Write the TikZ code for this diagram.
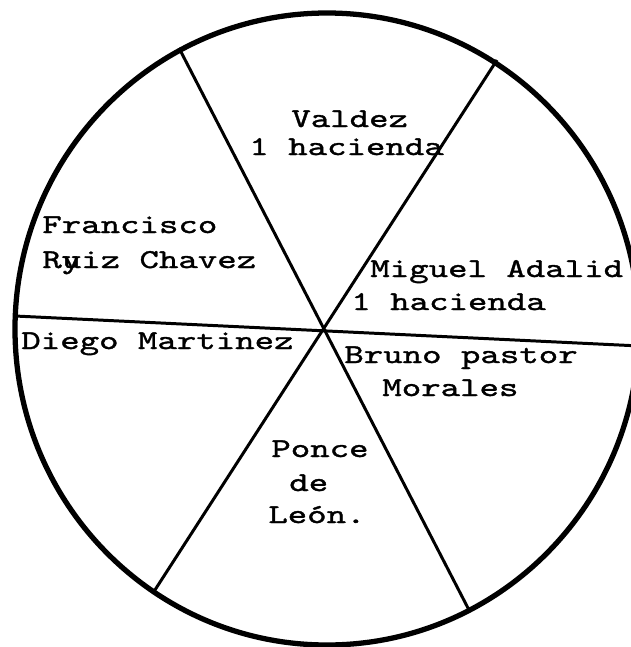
\documentclass[tikz,border=0pt]{standalone}
\usepackage{fontspec}
\newfontfamily\typer[FakeStretch=1.36,FakeBold=1.3]{lmmono10-regular.otf}
\tikzset{
  owner/.style={anchor=base west, inner sep=0pt, font={\typer\fontsize{15.5}{18}\selectfont}},
  rim/.style={line width=3pt},
  spoke/.style={line width=1.7pt}
}
\begin{document}
\begin{tikzpicture}[x=0.02cm, y=-0.02cm]
    \useasboundingbox (0,0) rectangle (631,647);
    \clip (0,0) rectangle (631,647);
    \fill[white] (0,0) rectangle (631,647);

    % Rim of the wheel
    \draw[rim] (327,329) ellipse (312 and 316);

    % Ends of the three spokes
    \coordinate (nw) at (179,48);  \coordinate (se) at (469,610);
    \coordinate (ne) at (497,60);  \coordinate (sw) at (153,593);
    \coordinate (w) at (15,316);   \coordinate (e) at (640,346);
    \draw[spoke] (nw) -- (se);
    \draw[spoke] (ne) -- (sw);
    \draw[spoke] (w) -- (e);

    % Top sector
    \node[owner] (valdez) at (291,127) {Valdez};
    \node[owner] (valdezh) at (249,155) {1 hacienda};
    % Upper left sector
    \node[owner] (ruiz) at (42,233) {Francisco};
    \node[owner] (ruizb) at (42,268) {R\rlap{y}uiz Chavez};
    % Upper right sector
    \node[owner] (adalid) at (370,277) {Miguel Adalid};
    \node[owner] (adalidh) at (351,310) {1 hacienda};
    % Lower left sector
    \node[owner] (martinez) at (21,349) {Diego Martinez};
    % Lower right sector
    \node[owner] (morales) at (344,363) {Bruno pastor};
    \node[owner] (moralesb) at (382,396) {Morales};
    % Bottom sector
    \node[owner] (ponce) at (271,457) {Ponce};
    \node[owner] (ponceb) at (289,491) {de};
    \node[owner] (poncec) at (268,523) {León.};
  \end{tikzpicture}
\end{document}
